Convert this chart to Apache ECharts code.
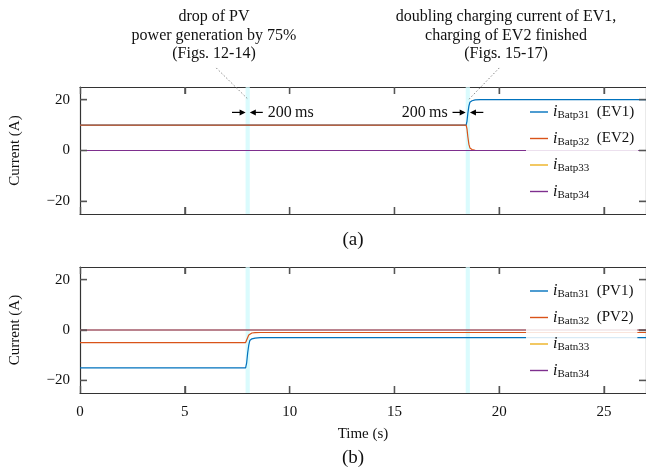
<!DOCTYPE html>
<html>
<head>
<meta charset="utf-8">
<script src="https://cdn.jsdelivr.net/npm/echarts@6/dist/echarts.min.js"></script>
<style>
  html, body { margin: 0; padding: 0; background: #fff; }
  #chart { width: 646px; height: 471px; }
</style>
</head>
<body>
<div id="chart"></div>
<script>
// ---- measured battery currents (A) versus time (s) ----
// upper panel: positive-side battery currents, load change at ~18.5 s
const tBatp = [0, 18.42, 18.46, 18.5, 18.55, 18.6, 18.7, 18.85, 19.1, 27];
const iBatp31 = [10, 10, 11.5, 14.5, 17.5, 19.0, 19.6, 19.9, 20, 20];
const iBatp32 = [10, 10, 8.5, 5.5, 2.5, 1.0, 0.4, 0.1, 0, 0];
const tFlat = [0, 27];
const iBatp33 = [0, 0];
const iBatp34 = [0, 0];

// lower panel: negative-side battery currents, PV drop at ~8 s
const tBatn = [0, 7.9, 7.95, 8.0, 8.05, 8.1, 8.2, 8.35, 8.6, 27];
const iBatn31 = [-15, -15, -13, -9, -6, -4.2, -3.5, -3.2, -3, -3];
const iBatn32 = [-5, -5, -4.3, -3, -2, -1.5, -1.2, -1.05, -1, -1];
const iBatn33 = [0, 0];
const iBatn34 = [0, 0];

// 200 ms transition windows
const bands = [[7.9, 8.1], [18.4, 18.6]];

// axis ticks
const xTicks = [0, 5, 10, 15, 20, 25];
const yTicks = [-20, 0, 20];

// legend entries
const subsP = ['Batp31', 'Batp32', 'Batp33', 'Batp34'];
const tagsP = ['(EV1)', '(EV2)', '', ''];
const subsN = ['Batn31', 'Batn32', 'Batn33', 'Batn34'];
const tagsN = ['(PV1)', '(PV2)', '', ''];

const colors = ['#0072BD', '#D95319', '#EDB120', '#7E2F8E'];
const FONT = '"Liberation Serif", "Times New Roman", serif';
const X_MIN = 0, X_MAX = 27, Y_MIN = -25, Y_MAX = 25;

const zip = (t, v) => t.map((x, i) => [x, v[i]]);

const chart = echarts.init(document.getElementById('chart'), null, { renderer: 'canvas' });

const gridBox = [
  { left: 78, top: 87, width: 570, height: 127 },
  { left: 78, top: 267, width: 570, height: 126 }
];

function axisLine() {
  return { show: true, onZero: false, lineStyle: { color: '#333', width: 1.2 } };
}
function axisTick(values) {
  return { show: true, inside: true, length: 7, customValues: values, lineStyle: { color: '#555', width: 1.4 } };
}

function xAxisPair(gridIndex, showLabels) {
  const common = () => ({
    type: 'value', gridIndex, min: X_MIN, max: X_MAX,
    axisLine: axisLine(), axisTick: axisTick(xTicks), splitLine: { show: false }
  });
  return [
    Object.assign(common(), {
      position: 'bottom',
      axisLabel: showLabels
        ? { show: true, customValues: xTicks, fontFamily: FONT, fontSize: 15, color: '#111', margin: 12 }
        : { show: false },
      name: showLabels ? 'Time (s)' : '',
      nameLocation: 'middle', nameGap: 34,
      nameTextStyle: { fontFamily: FONT, fontSize: 15, color: '#111' }
    }),
    Object.assign(common(), { position: 'top', axisLabel: { show: false } })
  ];
}

function yAxisPair(gridIndex) {
  const common = () => ({
    type: 'value', gridIndex, min: Y_MIN, max: Y_MAX,
    axisLine: axisLine(), axisTick: axisTick(yTicks), splitLine: { show: false }
  });
  return [
    Object.assign(common(), {
      position: 'left',
      axisLabel: {
        show: true, customValues: yTicks, fontFamily: FONT, fontSize: 15, color: '#111', margin: 10,
        formatter: v => (v < 0 ? '\u2212' + Math.abs(v) : String(v))
      },
      name: 'Current (A)', nameLocation: 'middle', nameGap: 57, nameRotate: 90,
      nameTextStyle: { fontFamily: FONT, fontSize: 15, color: '#111' }
    }),
    Object.assign(common(), { position: 'right', axisLabel: { show: false } })
  ];
}

const richLegend = {
  i: { fontFamily: FONT, fontStyle: 'italic', fontSize: 16, color: '#111', lineHeight: 18, verticalAlign: 'middle' },
  s: { fontFamily: FONT, fontSize: 11, color: '#111', lineHeight: 11, verticalAlign: 'bottom' },
  t: { fontFamily: FONT, fontSize: 15, color: '#111', lineHeight: 18, verticalAlign: 'middle' }
};

function legendFor(names, subs, tags, top) {
  return {
    data: names,
    orient: 'vertical',
    left: 526, top,
    padding: [2, 4, 6, 4],
    icon: 'rect',
    itemWidth: 18, itemHeight: 1.4, itemGap: 9.5,
    backgroundColor: 'rgba(255,255,255,0.85)',
    borderWidth: 0,
    z: 6,
    formatter: name => {
      const k = names.indexOf(name);
      return '{i|i}{s|' + subs[k] + '}' + (tags[k] ? '{t|  ' + tags[k] + '}' : '');
    },
    textStyle: { rich: richLegend }
  };
}

function lineSeries(name, data, color, xi, yi) {
  return {
    name, type: 'line', data, xAxisIndex: xi, yAxisIndex: yi,
    showSymbol: false, symbol: 'none', smooth: false, z: 2,
    lineStyle: { color, width: 1.2 }, itemStyle: { color },
    emphasis: { disabled: true }, animation: false
  };
}

function bandSeries(xi, yi) {
  return {
    type: 'line', data: [], xAxisIndex: xi, yAxisIndex: yi, z: 1, silent: true,
    markArea: {
      silent: true,
      itemStyle: { color: 'rgba(205,250,252,0.75)' },
      data: bands.map(b => [{ xAxis: b[0] }, { xAxis: b[1] }])
    }
  };
}

const namesP = subsP.map(s => 'i_' + s);
const namesN = subsN.map(s => 'i_' + s);

const option = {
  backgroundColor: '#fff',
  animation: false,
  grid: gridBox,
  xAxis: [...xAxisPair(0, false), ...xAxisPair(1, true)],
  yAxis: [...yAxisPair(0), ...yAxisPair(1)],
  legend: [legendFor(namesP, subsP, tagsP, 102), legendFor(namesN, subsN, tagsN, 281)],
  series: [
    bandSeries(0, 0),
    lineSeries(namesP[0], zip(tBatp, iBatp31), colors[0], 0, 0),
    lineSeries(namesP[1], zip(tBatp, iBatp32), colors[1], 0, 0),
    lineSeries(namesP[2], zip(tFlat, iBatp33), colors[2], 0, 0),
    lineSeries(namesP[3], zip(tFlat, iBatp34), colors[3], 0, 0),
    bandSeries(2, 2),
    lineSeries(namesN[0], zip(tBatn, iBatn31), colors[0], 2, 2),
    lineSeries(namesN[1], zip(tBatn, iBatn32), colors[1], 2, 2),
    lineSeries(namesN[2], zip(tFlat, iBatn33), colors[2], 2, 2),
    lineSeries(namesN[3], zip(tFlat, iBatn34), colors[3], 2, 2)
  ]
};
chart.setOption(option);

// ---- annotations positioned through the panels' scales ----
const pxIn = (g, p) => chart.convertToPixel({ gridIndex: g }, p);
const px = p => pxIn(0, p);

// inward tick marks on all four sides of both panels
const TICK = 7;
const tickStyle = { stroke: '#555', lineWidth: 1.2 };
const tickMarks = [];
[0, 1].forEach(g => {
  xTicks.filter(v => v > X_MIN && v < X_MAX).forEach(v => {
    const b = pxIn(g, [v, Y_MIN]), t = pxIn(g, [v, Y_MAX]);
    tickMarks.push({ type: 'line', z: 9, style: tickStyle, shape: { x1: b[0], y1: b[1], x2: b[0], y2: b[1] - TICK } });
    tickMarks.push({ type: 'line', z: 9, style: tickStyle, shape: { x1: t[0], y1: t[1], x2: t[0], y2: t[1] + TICK } });
  });
  yTicks.forEach(v => {
    const l = pxIn(g, [X_MIN, v]), r = pxIn(g, [X_MAX, v]);
    tickMarks.push({ type: 'line', z: 9, style: tickStyle, shape: { x1: l[0], y1: l[1], x2: l[0] + TICK, y2: l[1] } });
    tickMarks.push({ type: 'line', z: 9, style: tickStyle, shape: { x1: r[0], y1: r[1], x2: r[0] - TICK, y2: r[1] } });
  });
});

function arrow(from, to) {
  const a = px(from), b = px(to);
  const dir = Math.sign(b[0] - a[0]);
  const hl = 6, hw = 3;
  return [
    { type: 'line', shape: { x1: a[0], y1: a[1], x2: b[0] - dir * 2, y2: b[1] },
      style: { stroke: '#000', lineWidth: 1.2 }, z: 10 },
    { type: 'polygon', shape: { points: [[b[0], b[1]], [b[0] - dir * hl, b[1] - hw], [b[0] - dir * hl, b[1] + hw]] },
      style: { fill: '#000' }, z: 10 }
  ];
}

function leader(from, to) {
  const a = px(from), b = px(to);
  return { type: 'line', shape: { x1: a[0], y1: a[1], x2: b[0], y2: b[1] },
    style: { stroke: '#888', lineWidth: 1, lineDash: [1.5, 2] }, z: 10 };
}

const arrowY = 15;
const msL = px([8.96, arrowY]);
const msR = px([17.54, arrowY]);

const graphics = [
  ...tickMarks,
  ...arrow([7.25, arrowY], [bands[0][0], arrowY]),
  ...arrow([8.72, arrowY], [bands[0][1], arrowY]),
  ...arrow([17.77, arrowY], [bands[1][0], arrowY]),
  ...arrow([19.24, arrowY], [bands[1][1], arrowY]),
  { type: 'text', x: msL[0], y: msL[1], z: 10,
    style: { text: '200\u2009ms', font: '16px ' + FONT, fill: '#111', textAlign: 'left', textVerticalAlign: 'middle' } },
  { type: 'text', x: msR[0], y: msR[1], z: 10,
    style: { text: '200\u2009ms', font: '16px ' + FONT, fill: '#111', textAlign: 'right', textVerticalAlign: 'middle' } },
  leader([6.5, 32.5], [8.0, 20.3]),
  leader([20.0, 32.5], [18.5, 19.7]),
  { type: 'text', x: 214, y: 8, z: 10,
    style: { text: 'drop of PV\npower generation by 75%\n(Figs. 12-14)', font: '16px ' + FONT,
      lineHeight: 18.5, fill: '#111', textAlign: 'center', textVerticalAlign: 'top' } },
  { type: 'text', x: 506, y: 8, z: 10,
    style: { text: 'doubling charging current of EV1,\ncharging of EV2 finished\n(Figs. 15-17)', font: '16px ' + FONT,
      lineHeight: 18.5, fill: '#111', textAlign: 'center', textVerticalAlign: 'top' } },
  { type: 'text', x: 353, y: 240, z: 10,
    style: { text: '(a)', font: '19px ' + FONT, fill: '#111', textAlign: 'center', textVerticalAlign: 'middle' } },
  { type: 'text', x: 353, y: 458, z: 10,
    style: { text: '(b)', font: '19px ' + FONT, fill: '#111', textAlign: 'center', textVerticalAlign: 'middle' } }
];
chart.setOption({ graphic: graphics });
</script>
</body>
</html>
